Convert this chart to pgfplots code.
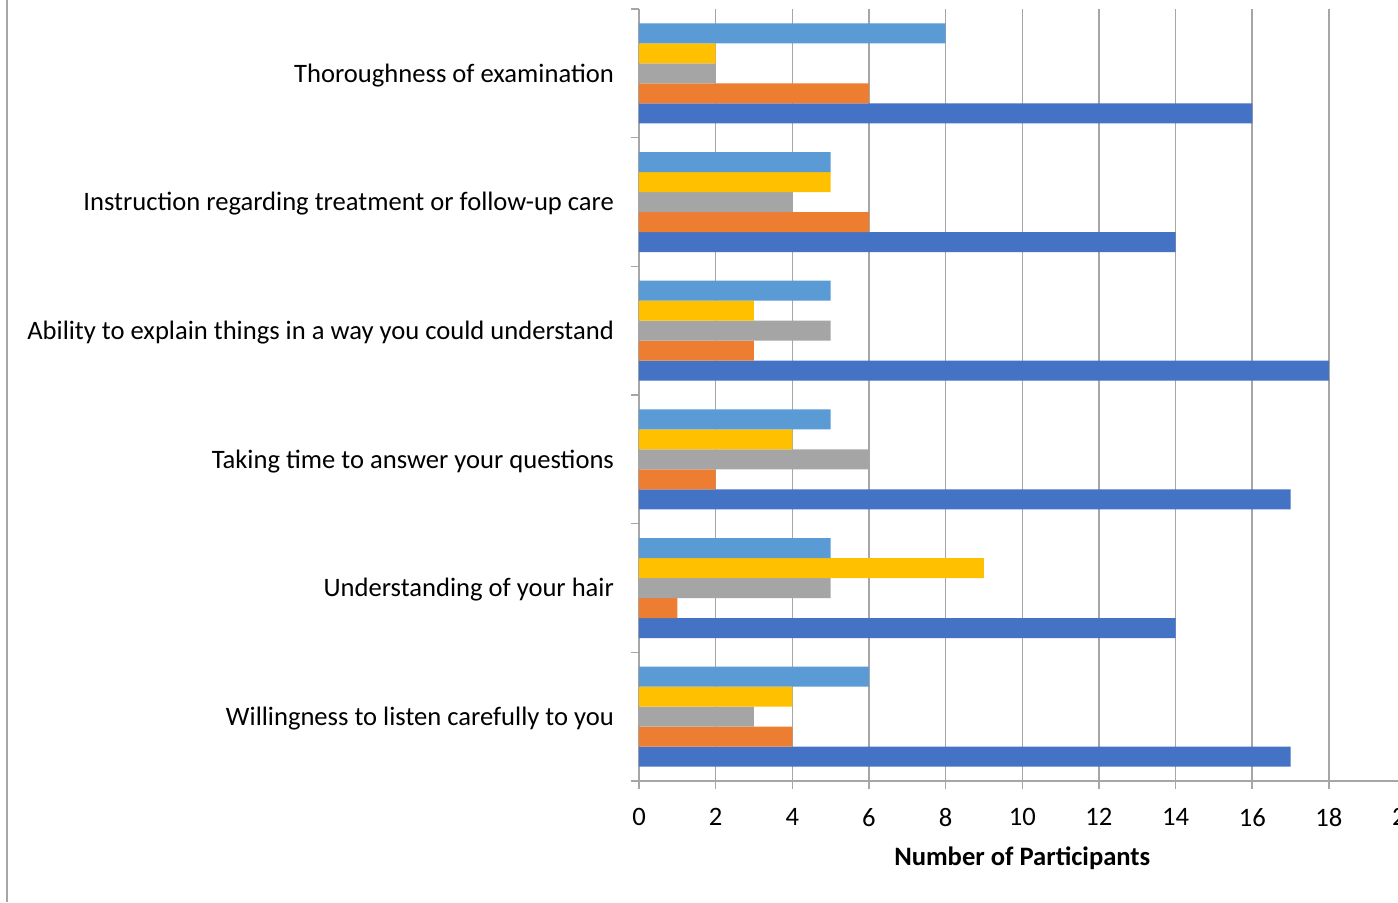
\documentclass[border=0pt]{standalone}
\usepackage{fontspec}
\setmainfont{Carlito}
\usepackage{pgfplots}
\usepackage{pgfplotstable}
\pgfplotsset{compat=1.18}
\definecolor{gridc}{HTML}{A6A6A6}
\definecolor{sLB}{HTML}{5B9BD5}
\definecolor{sYL}{HTML}{FFC000}
\definecolor{sGR}{HTML}{A5A5A5}
\definecolor{sOR}{HTML}{ED7D31}
\definecolor{sDB}{HTML}{4472C4}
\pgfplotstableread{
y lb yl gr or db
0 6 4 3 4 17
1 5 9 5 1 14
2 5 4 6 2 17
3 5 3 5 3 18
4 5 5 4 6 14
5 8 2 2 6 16
}\data
\begin{document}
\begin{tikzpicture}[x=0.5pt,y=0.5pt]
\useasboundingbox (0,0) rectangle (1398,-902);
\clip (0,0) rectangle (1398,-902);
\fill[white] (0,0) rectangle (1398,-902);
\draw[gridc, line width=1pt] (7,0) -- (7,-902);
\begin{axis}[
  at={(319.5pt,-390.5pt)}, anchor=south west,
  scale only axis, width=383.3pt, height=386pt,
  xmin=0, xmax=20, ymin=-0.5, ymax=5.5,
  axis lines=left, axis line style={-, gridc, line width=0.8pt},
  xtick={0,2,...,20},
  xmajorgrids, major grid style={gridc, line width=0.8pt},
  tick align=outside, major tick length=4pt,
  xtick style={gridc, line width=0.8pt},
  ytick={0,...,5},
  ytick style={draw=none},
  yticklabels={Willingness to listen carefully to you, Understanding of your hair, Taking time to answer your questions, Ability to explain things in a way you could understand, Instruction regarding treatment or follow-up care, Thoroughness of examination},
  extra y ticks={-0.5,0.5,1.5,2.5,3.5,4.5,5.5},
  extra y tick labels={},
  extra y tick style={ytick style={draw=gridc, line width=0.8pt}},
  tick label style={font=\fontsize{13.3pt}{16pt}\selectfont},
  /pgf/number format/assume math mode=true,
  yticklabel style={anchor=east, xshift=-5pt, yshift=-1pt},
  xticklabel style={yshift=-6pt},
  xlabel={\textbf{Number of Participants}},
  xlabel style={font=\fontsize{13.3pt}{16pt}\selectfont, at={(axis description cs:0.5,0)}, anchor=center, yshift=-38.5pt},
  xbar, bar width=0.1554,
  every axis plot/.append style={draw=none},
]
\addplot[bar shift=-0.3108, fill=sDB] table[x=db,y=y]{\data};
\addplot[bar shift=-0.1554, fill=sOR] table[x=or,y=y]{\data};
\addplot[bar shift=0, fill=sGR] table[x=gr,y=y]{\data};
\addplot[bar shift=0.1554, fill=sYL] table[x=yl,y=y]{\data};
\addplot[bar shift=0.3108, fill=sLB] table[x=lb,y=y]{\data};
\end{axis}
\end{tikzpicture}
\end{document}
